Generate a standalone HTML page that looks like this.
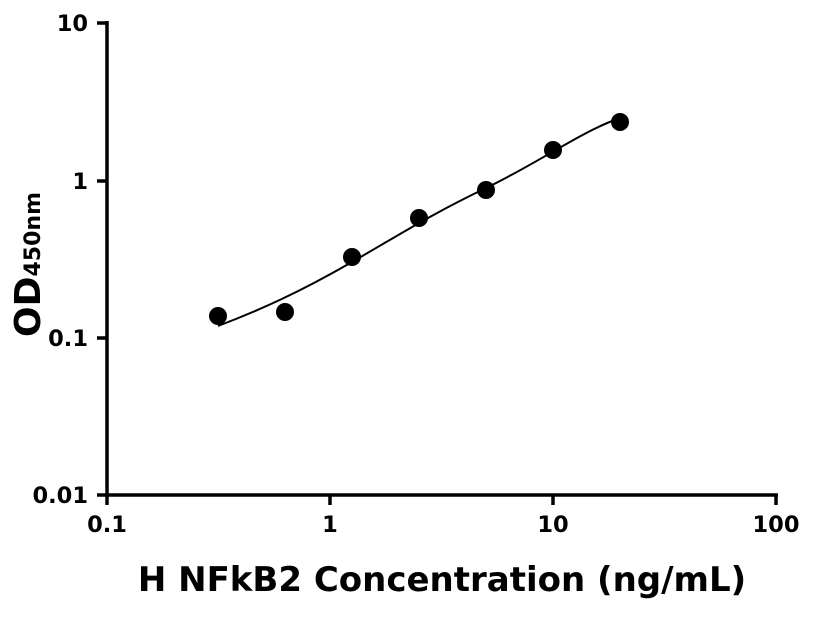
<!DOCTYPE html>
<html><head><style>body{margin:0;background:#fff}</style></head><body>
<svg width="816" height="612" xmlns="http://www.w3.org/2000/svg" font-family="DejaVu Sans, Liberation Sans, sans-serif" font-weight="bold">
<g stroke="#000" stroke-width="3.5" fill="none">
<line x1="107" y1="21" x2="107" y2="497"/>
<line x1="105.5" y1="495" x2="778" y2="495"/>
<line x1="97" y1="23" x2="107" y2="23"/>
<line x1="97" y1="181" x2="107" y2="181"/>
<line x1="97" y1="338" x2="107" y2="338"/>
<line x1="97" y1="495" x2="107" y2="495"/>
<line x1="107" y1="495" x2="107" y2="505"/>
<line x1="330" y1="495" x2="330" y2="505"/>
<line x1="553" y1="495" x2="553" y2="505"/>
<line x1="776" y1="495" x2="776" y2="505"/>
</g>
<g font-size="22.5" text-anchor="end">
<text x="88" y="31">10</text>
<text x="88" y="189">1</text>
<text x="88" y="346">0.1</text>
<text x="88" y="503">0.01</text>
</g>
<g font-size="22.5" text-anchor="middle">
<text x="107" y="532">0.1</text>
<text x="330" y="532">1</text>
<text x="553" y="532">10</text>
<text x="776" y="532">100</text>
</g>
<text x="442" y="591" font-size="34" text-anchor="middle">H NFkB2 Concentration (ng/mL)</text>
<text transform="translate(40,337) rotate(-90)" font-size="36">OD<tspan font-size="22">450nm</tspan></text>
<path d="M218,326 C260,310 300,292 352,262 S430,215 486,188 S580,132 620,118" stroke="#000" stroke-width="2" fill="none"/>
<g fill="#000">
<circle cx="218" cy="316" r="9"/>
<circle cx="285" cy="312" r="9"/>
<circle cx="352" cy="257" r="9"/>
<circle cx="419" cy="218" r="9"/>
<circle cx="486" cy="190" r="9"/>
<circle cx="553" cy="150" r="9"/>
<circle cx="620" cy="122" r="9"/>
</g>
</svg>
</body></html>
